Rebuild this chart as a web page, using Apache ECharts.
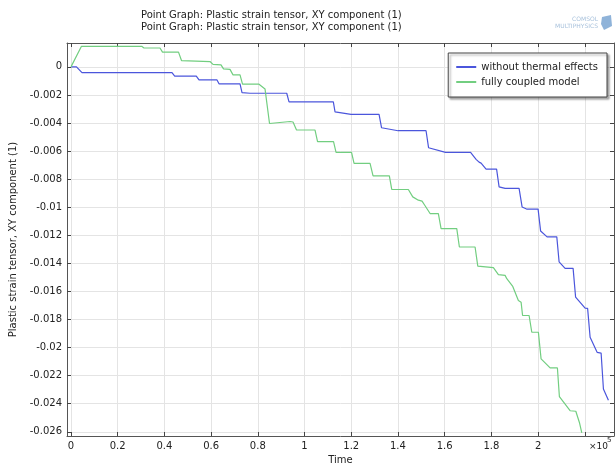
<!DOCTYPE html>
<html>
<head>
<meta charset="utf-8">
<script src="https://cdn.jsdelivr.net/npm/echarts@6/dist/echarts.min.js"></script>
<style>html,body{margin:0;padding:0;background:#fff;}#c{width:616px;height:466px;}</style>
</head>
<body>
<div id="c"></div>
<script>
var titleLines = ['Point Graph: Plastic strain tensor, XY component (1)', 'Point Graph: Plastic strain tensor, XY component (1)'];
var seriesNames = ['without thermal effects', 'fully coupled model'];
var xTicks = [0, 20000, 40000, 60000, 80000, 100000, 120000, 140000, 160000, 180000, 200000, 220000];
var yTicks = [0, -0.002, -0.004, -0.006, -0.008, -0.01, -0.012, -0.014, -0.016, -0.018, -0.02, -0.022, -0.024, -0.026];

var blueT = [0, 2360, 4710, 43250, 44410, 53660, 54820, 62530, 63380, 72380, 73230, 76660, 92380, 93360, 112330, 113060, 119910, 131910, 132980, 140040, 152030, 153100, 160390, 171090, 173450, 174730, 175590, 177730, 182230, 183300, 185870, 191860, 193150, 195290, 200000, 201070, 203850, 208010, 208990, 211560, 214990, 216060, 220130, 221200, 222270, 225270, 226980, 227970, 230110];
var blueV = [0, 0, -0.00041, -0.00041, -0.00066, -0.00066, -0.00093, -0.00093, -0.00121, -0.00121, -0.00184, -0.00188, -0.00188, -0.0025, -0.0025, -0.00321, -0.00338, -0.00338, -0.00434, -0.00455, -0.00455, -0.00576, -0.00609, -0.00609, -0.00659, -0.00679, -0.00686, -0.00729, -0.00729, -0.00855, -0.00866, -0.00866, -0.00998, -0.01014, -0.01014, -0.01169, -0.01211, -0.01211, -0.01389, -0.01436, -0.01436, -0.01641, -0.01719, -0.01721, -0.01926, -0.02034, -0.02039, -0.02295, -0.02375];

var greenT = [0, 430, 4500, 30280, 31260, 38120, 39190, 46040, 47320, 59530, 60810, 64240, 65310, 68090, 69380, 72380, 73450, 80510, 83080, 85010, 91650, 93790, 95070, 96570, 104500, 105570, 112420, 113490, 120130, 121200, 128050, 129340, 136320, 137340, 144450, 146340, 148740, 150320, 151610, 153750, 157300, 158460, 165180, 166300, 173020, 174180, 180860, 183000, 185870, 186600, 189160, 191560, 192720, 193360, 196150, 197300, 200130, 201280, 205140, 208270, 209120, 213700, 216150, 217690, 218710];
var greenV = [0, 0, 0.001464, 0.001464, 0.001343, 0.001343, 0.00105, 0.00105, 0.00045, 0.000379, 0.000179, 0.000143, -0.000143, -0.000179, -0.000571, -0.000571, -0.001236, -0.001236, -0.001571, -0.004036, -0.003929, -0.003893, -0.003929, -0.0045, -0.0045, -0.005321, -0.005321, -0.006093, -0.006093, -0.006879, -0.006879, -0.007764, -0.007764, -0.008736, -0.008736, -0.009264, -0.0095, -0.009571, -0.009893, -0.01045, -0.01045, -0.011521, -0.011521, -0.012836, -0.012836, -0.014193, -0.014307, -0.014807, -0.014857, -0.015093, -0.015643, -0.016643, -0.016764, -0.017714, -0.017714, -0.018907, -0.018907, -0.020807, -0.02145, -0.02145, -0.0235, -0.0245, -0.024536, -0.025336, -0.026071];

function zip(a, b) { return a.map(function (v, i) { return [v, b[i]]; }); }

var chart = echarts.init(document.getElementById('c'), null, { renderer: 'canvas' });
var FONT = 'DejaVu Sans';
var frame = { show: true, onZero: false, lineStyle: { color: '#555', width: 1 } };
var grid = { left: 67, right: 2, top: 43, bottom: 30, outerBoundsMode: 'none', containLabel: false };
var xMin = -1700, xMax = 232500, yMin = -0.0263, yMax = 0.0017;

function xfmt(v) {
  if (v > 210000) return '';
  return String(parseFloat((v / 100000).toFixed(2)));
}
function yfmt(v) { return String(parseFloat(v.toFixed(4))); }

chart.setOption({
  animation: false,
  backgroundColor: '#fff',
  textStyle: { fontFamily: FONT },
  title: {
    text: titleLines.join('\n'),
    left: 136, top: 4,
    textStyle: { fontFamily: FONT, fontSize: 10, fontWeight: 'normal', color: '#222', lineHeight: 12 }
  },
  legend: {
    orient: 'vertical',
    right: 9, top: 53,
    padding: [7, 9, 8, 8],
    itemGap: 1,
    itemWidth: 20, itemHeight: 2,
    icon: 'rect',
    backgroundColor: '#fff',
    borderColor: '#444', borderWidth: 1,
    shadowColor: 'rgba(0,0,0,0.35)', shadowBlur: 2, shadowOffsetX: 2, shadowOffsetY: 2,
    textStyle: { fontFamily: FONT, fontSize: 10, color: '#222', lineHeight: 14 },
    data: seriesNames
  },
  grid: grid,
  xAxis: [{
    type: 'value', min: xMin, max: xMax, position: 'bottom',
    name: 'Time', nameLocation: 'middle', nameGap: 17,
    nameTextStyle: { fontFamily: FONT, fontSize: 10, color: '#222' },
    axisLine: frame,
    axisTick: { show: true, inside: true, length: 4, customValues: xTicks, lineStyle: { color: '#444' } },
    axisLabel: { customValues: xTicks, formatter: xfmt, fontFamily: FONT, fontSize: 10, color: '#222', margin: 5 },
    splitLine: { show: true, lineStyle: { color: '#e4e4e4', width: 1 } }
  }, {
    type: 'value', min: xMin, max: xMax, position: 'top',
    axisLine: frame,
    axisTick: { show: true, inside: true, length: 4, customValues: xTicks, lineStyle: { color: '#444' } },
    axisLabel: { show: false },
    splitLine: { show: false }
  }],
  yAxis: [{
    type: 'value', min: yMin, max: yMax, position: 'left',
    name: 'Plastic strain tensor, XY component (1)', nameLocation: 'middle', nameGap: 46,
    nameTextStyle: { fontFamily: FONT, fontSize: 10, color: '#222' },
    axisLine: frame,
    axisTick: { show: true, inside: true, length: 4, customValues: yTicks, lineStyle: { color: '#444' } },
    axisLabel: { customValues: yTicks, formatter: yfmt, fontFamily: FONT, fontSize: 10, color: '#222', margin: 5 },
    splitLine: { show: true, lineStyle: { color: '#e4e4e4', width: 1 } }
  }, {
    type: 'value', min: yMin, max: yMax, position: 'right',
    axisLine: frame,
    axisTick: { show: true, inside: true, length: 4, customValues: yTicks, lineStyle: { color: '#444' } },
    axisLabel: { show: false },
    splitLine: { show: false }
  }],
  graphic: [
    { type: 'text', left: 589, top: 442, style: { text: '×10', font: '9px "DejaVu Sans"', fill: '#222' } },
    { type: 'text', left: 607, top: 437, style: { text: '5', font: '7px "DejaVu Sans"', fill: '#222' } },
    { type: 'text', right: 18, top: 16, style: { text: 'COMSOL', font: '6px "DejaVu Sans"', fill: '#a9c2dc', align: 'right' } },
    { type: 'text', right: 18, top: 23, style: { text: 'MULTIPHYSICS', font: '6px "DejaVu Sans"', fill: '#a9c2dc', align: 'right' } },
    { type: 'polygon', shape: { points: [[602, 17], [611, 15], [612, 26], [604, 30], [601, 24]] }, style: { fill: '#8fb3d9' } }
  ],
  series: [{
    name: seriesNames[0], type: 'line', showSymbol: false, symbol: 'none',
    data: zip(blueT, blueV),
    lineStyle: { color: '#4b56dc', width: 1.2 }, itemStyle: { color: '#4b56dc' }
  }, {
    name: seriesNames[1], type: 'line', showSymbol: false, symbol: 'none',
    data: zip(greenT, greenV),
    lineStyle: { color: '#72ce80', width: 1.2 }, itemStyle: { color: '#72ce80' }
  }]
});
</script>
</body>
</html>
